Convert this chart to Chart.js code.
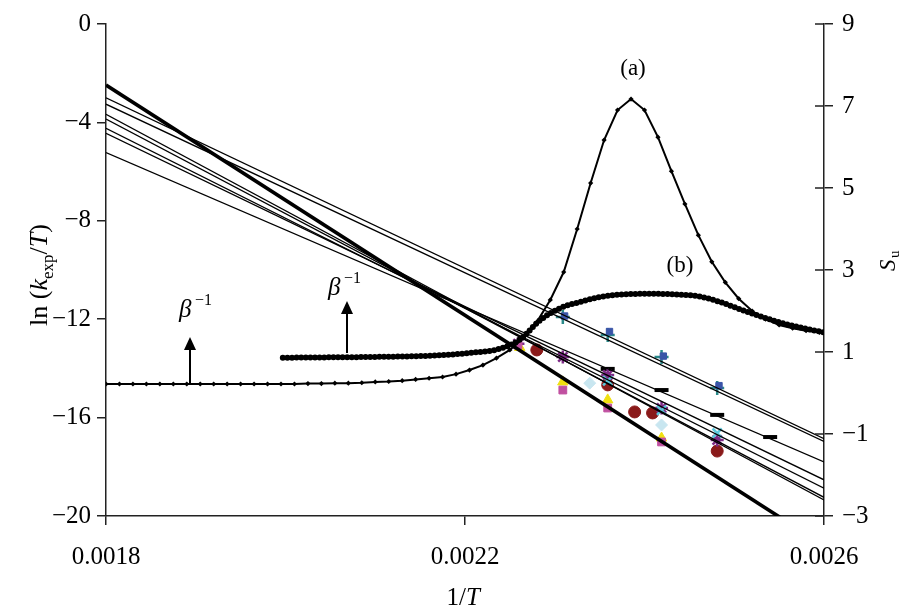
<!DOCTYPE html>
<html><head><meta charset="utf-8">
<script src="https://cdn.jsdelivr.net/npm/chart.js@4/dist/chart.umd.min.js"></script>
<style>html,body{margin:0;padding:0;background:#fff}#wrap{width:907px;height:607px}</style>
</head><body><div id="wrap"><canvas id="c" width="907" height="607"></canvas></div>
<script>
// ---- axes ----
const xRange = [0.0018, 0.0026];
const xTicks = [0.0018, 0.0022, 0.0026];
const yLeftRange = [-20, 0];
const yRightRange = [-3, 9];
const yRightTicks = [-3, -1, 1, 3, 5, 7, 9];

// ---- curve (a): S_u with diamond markers (right axis) ----
const aX = [0.001800,0.001815,0.001830,0.001845,0.001860,0.001875,0.001890,0.001905,0.001920,0.001935,
            0.001950,0.001965,0.001980,0.001995,0.002010,0.002025,0.002040,0.002055,0.002070,0.002085,
            0.002100,0.002115,0.002130,0.002145,0.002160,0.002175,0.002190,0.002205,0.002220,0.002235,
            0.002250,0.002265,0.002280,0.002295,0.002310,0.002325,0.002340,0.002355,0.002370,0.002385,
            0.002400,0.002415,0.002430,0.002445,0.002460,0.002475,0.002490,0.002505,0.002520,0.002535,
            0.002550,0.002565,0.002580,0.002595];
const aS = [0.22,0.22,0.22,0.22,0.22,0.22,0.22,0.22,0.22,0.22,
            0.22,0.22,0.22,0.22,0.22,0.23,0.23,0.24,0.24,0.25,
            0.27,0.28,0.30,0.33,0.36,0.39,0.46,0.56,0.68,0.85,
            1.05,1.34,1.73,2.27,2.95,4.00,5.12,6.17,6.90,7.17,
            6.90,6.24,5.41,4.61,3.85,3.20,2.70,2.30,2.00,1.80,
            1.66,1.58,1.52,1.48];

// ---- curve (b): S_u, dense dotted (right axis) ----
const bX = [0.001997,0.002050,0.002100,0.002172,0.002206,0.002239,0.002261,0.002284,0.002306,0.002328,
            0.002350,0.002373,0.002406,0.002440,0.002462,0.002484,0.002518,0.002551,0.002573,0.002600];
const bS = [0.86,0.87,0.88,0.92,0.98,1.08,1.30,1.78,2.07,2.22,
            2.34,2.40,2.42,2.40,2.35,2.22,1.95,1.72,1.60,1.48];

// ---- Arrhenius fit lines: ln(k/T) at 1/T = 0.0018 and 0.0026 ----
const fitStart = [-3.00, -3.26, -5.23, -3.67, -3.86, -4.24, -4.44];
const fitEnd   = [-16.86,-16.97,-17.80,-19.35,-19.24,-18.87,-18.53];
const thickStart = -2.48, thickEnd = -21.20;

// ---- experimental points ln(k/T) ----
const ptX = {
  plus:   [0.002309,0.002359,0.002419,0.002481],
  blue:   [0.002311,0.002361,0.002421,0.002483],
  dash:   [0.002359,0.002419,0.002481,0.002540],
  square: [0.002259,0.002309,0.002359,0.002419],
  tri:    [0.002261,0.002309,0.002359,0.002419],
  circle: [0.002280,0.002359,0.002389,0.002409,0.002481],
  star:   [0.002259,0.002309,0.002359,0.002419,0.002481],
  cross:  [0.002359,0.002419,0.002481],
  diam:   [0.002339,0.002419]
};
const ptY = {
  plus:   [-11.91,-12.64,-13.54,-14.80],
  blue:   [-11.87,-12.50,-13.50,-14.70],
  dash:   [-14.02,-14.88,-15.89,-16.79],
  square: [-13.05,-14.88,-15.61,-16.99],
  tri:    [-13.15,-14.55,-15.28,-16.83],
  circle: [-13.25,-14.67,-15.77,-15.81,-17.36],
  star:   [-13.00,-13.54,-14.27,-15.61,-16.91],
  cross:  [-14.50,-15.70,-16.63],
  diam:   [-14.60,-16.30]
};

const FONT = "'Liberation Serif','Times New Roman',serif";
const pts = (xs, ys) => xs.map((x, i) => ({x, y: ys[i]}));

const datasets = [];
datasets.push({data: pts(aX, aS), yAxisID: 'y2', showLine: true, borderColor: '#000', borderWidth: 2,
  pointStyle: 'rectRot', pointRadius: 2.6, pointBackgroundColor: '#000', pointBorderColor: '#000', pointBorderWidth: 0,
  tension: 0, order: 0});
datasets.push({data: pts(bX, bS), yAxisID: 'y2', showLine: true, borderColor: '#000', borderWidth: 6,
  borderDash: [0, 4.6], borderCapStyle: 'round', pointRadius: 0, cubicInterpolationMode: 'monotone', order: 0});
fitStart.forEach((s, i) => datasets.push({data: [{x: xRange[0], y: s}, {x: xRange[1], y: fitEnd[i]}],
  yAxisID: 'y', showLine: true, borderColor: '#000', borderWidth: 1.3, pointRadius: 0, order: 1}));
datasets.push({data: [{x: xRange[0], y: thickStart}, {x: xRange[1], y: thickEnd}],
  yAxisID: 'y', showLine: true, borderColor: '#000', borderWidth: 3.6, pointRadius: 0, order: 1});
const mk = (key, style, color, r, extra) => datasets.push(Object.assign({data: pts(ptX[key], ptY[key]), yAxisID: 'y',
  showLine: false, pointStyle: style, pointRadius: r, pointBackgroundColor: color, pointBorderColor: color,
  pointBorderWidth: 2.5, order: 5}, extra || {}));
mk('blue', 'rect', '#3a55a8', 4.5, {pointBorderWidth: 1});
mk('square', 'rect', '#c050a0', 5.5, {pointBorderWidth: 1});
mk('tri', 'triangle', '#f0e010', 6, {pointBorderWidth: 1});
mk('diam', 'rectRot', '#c8e6f0', 6, {pointBorderWidth: 1});
mk('cross', 'crossRot', '#5cc8dc', 6.5);
mk('star', 'star', '#7d2a86', 6.5);
mk('circle', 'circle', '#8a1a1a', 6, {pointBorderWidth: 1});
mk('plus', 'cross', '#2a8a8a', 7);
mk('dash', 'line', '#000', 7, {pointBorderWidth: 4});

const deco = {
  id: 'deco',
  afterDatasetsDraw(chart) {
    const ctx = chart.ctx;
    const ca = chart.chartArea;
    const ys2 = chart.scales.y2;
    ctx.save();
    ctx.strokeStyle = '#222'; ctx.lineWidth = 1.5;
    yRightTicks.forEach(v => {
      const p = ys2.getPixelForValue(v);
      ctx.beginPath(); ctx.moveTo(ca.right - 9, p); ctx.lineTo(ca.right, p); ctx.stroke();
    });
    ctx.fillStyle = '#000';
    ctx.textBaseline = 'alphabetic';
    ctx.font = '23px ' + FONT; ctx.textAlign = 'center';
    ctx.fillText('(a)', 633, 75);
    ctx.fillText('(b)', 680, 272);
    const beta = (x, y) => {
      ctx.textAlign = 'left';
      ctx.font = 'italic 25px ' + FONT; ctx.fillText('β', x, y);
      ctx.font = '16px ' + FONT; ctx.fillText('−1', x + 16, y - 12);
    };
    beta(179, 317);
    beta(328, 295);
    const arrow = (x, y0, y1) => {
      ctx.lineWidth = 2; ctx.strokeStyle = '#000';
      ctx.beginPath(); ctx.moveTo(x, y0); ctx.lineTo(x, y1 + 10); ctx.stroke();
      ctx.beginPath(); ctx.moveTo(x, y1); ctx.lineTo(x - 6, y1 + 13); ctx.lineTo(x + 6, y1 + 13); ctx.closePath(); ctx.fill();
    };
    arrow(190, 385, 337);
    arrow(347, 353, 301);
    ctx.restore();
  },
  afterDraw(chart) {
    const ctx = chart.ctx;
    ctx.save();
    ctx.fillStyle = '#000';
    ctx.translate(47, 275); ctx.rotate(-Math.PI / 2);
    ctx.textBaseline = 'alphabetic';
    const parts = [['ln (', '26px ', 0], ['k', 'italic 26px ', 0], ['exp', '17px ', 6], ['/', '26px ', 0], ['T', 'italic 26px ', 0], [')', '26px ', 0]];
    let w = 0;
    parts.forEach(p => { ctx.font = p[1] + FONT; w += ctx.measureText(p[0]).width; });
    let x = -w / 2;
    parts.forEach(p => { ctx.font = p[1] + FONT; ctx.fillText(p[0], x, p[2]); x += ctx.measureText(p[0]).width; });
    ctx.restore();
    ctx.save();
    ctx.translate(895, 262); ctx.rotate(-Math.PI / 2);
    ctx.font = 'italic 23px ' + FONT; ctx.textAlign = 'left'; ctx.fillStyle = '#000';
    ctx.fillText('S', -9, 0);
    ctx.font = '15px ' + FONT; ctx.fillText('u', 4, 4);
    ctx.restore();
    ctx.save();
    ctx.font = '25px ' + FONT; ctx.textAlign = 'right'; ctx.fillStyle = '#000';
    ctx.fillText('1/', 466, 605);
    ctx.font = 'italic 25px ' + FONT; ctx.textAlign = 'left';
    ctx.fillText('T', 466, 605);
    ctx.restore();
  }
};

const minus = v => (v < 0 ? '−' + Math.abs(v) : String(v));

new Chart(document.getElementById('c'), {
  type: 'scatter',
  data: {datasets},
  options: {
    responsive: false, animation: false, devicePixelRatio: 1,
    layout: {padding: {top: 24, left: 0, right: 0, bottom: 0}},
    plugins: {legend: {display: false}, tooltip: {enabled: false}},
    scales: {
      x: {type: 'linear', min: xRange[0], max: xRange[1], position: 'bottom',
        afterFit: s => { s.height = 91; },
        afterBuildTicks: s => { s.ticks = xTicks.map(v => ({value: v})); },
        ticks: {callback: v => v.toFixed(4), font: {family: FONT, size: 25}, color: '#000', padding: 17, maxRotation: 0},
        grid: {drawOnChartArea: false, drawTicks: true, tickLength: 9, color: '#222', lineWidth: 1.5},
        border: {color: '#222', width: 1.5}},
      y: {type: 'linear', min: yLeftRange[0], max: yLeftRange[1], position: 'left',
        afterFit: s => { s.width = 106; },
        ticks: {stepSize: 4, callback: minus, font: {family: FONT, size: 25}, color: '#000', padding: 6},
        grid: {drawOnChartArea: false, drawTicks: true, tickLength: 9, color: '#222', lineWidth: 1.5},
        border: {color: '#222', width: 1.5}},
      y2: {type: 'linear', min: yRightRange[0], max: yRightRange[1], position: 'right',
        afterFit: s => { s.width = 83; },
        ticks: {stepSize: 2, callback: minus, font: {family: FONT, size: 25}, color: '#000', padding: 9},
        grid: {drawOnChartArea: false, drawTicks: true, tickLength: 9, color: '#222', lineWidth: 1.5},
        border: {color: '#222', width: 1.5}}
    }
  },
  plugins: [deco]
});
</script>
</body></html>
